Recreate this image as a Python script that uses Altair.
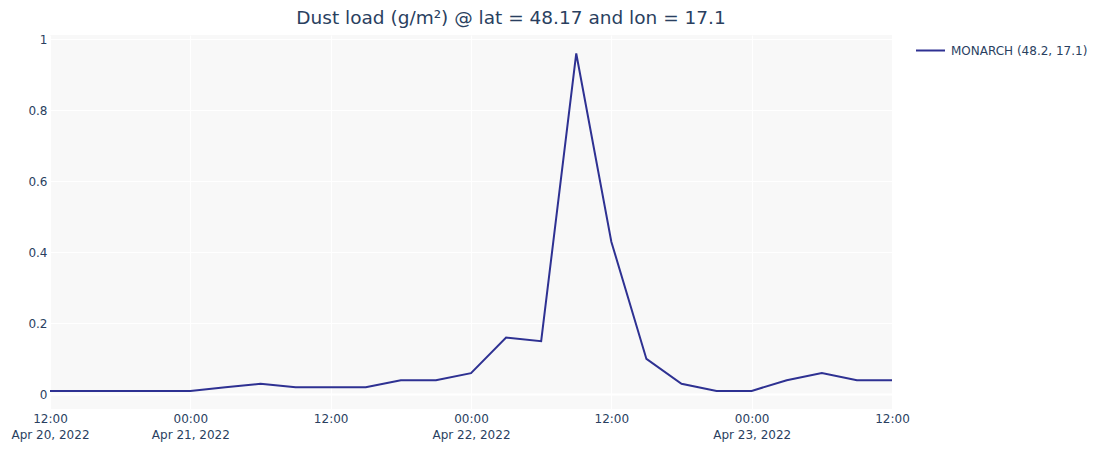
import altair as alt
import pandas as pd

times = [
    "2022-04-20T12:00:00Z", "2022-04-20T15:00:00Z", "2022-04-20T18:00:00Z", "2022-04-20T21:00:00Z",
    "2022-04-21T00:00:00Z", "2022-04-21T03:00:00Z", "2022-04-21T06:00:00Z", "2022-04-21T09:00:00Z",
    "2022-04-21T12:00:00Z", "2022-04-21T15:00:00Z", "2022-04-21T18:00:00Z", "2022-04-21T21:00:00Z",
    "2022-04-22T00:00:00Z", "2022-04-22T03:00:00Z", "2022-04-22T06:00:00Z", "2022-04-22T09:00:00Z",
    "2022-04-22T12:00:00Z", "2022-04-22T15:00:00Z", "2022-04-22T18:00:00Z", "2022-04-22T21:00:00Z",
    "2022-04-23T00:00:00Z", "2022-04-23T03:00:00Z", "2022-04-23T06:00:00Z", "2022-04-23T09:00:00Z",
    "2022-04-23T12:00:00Z",
]
dust_load = [0.01, 0.01, 0.01, 0.01, 0.01, 0.02, 0.03, 0.02, 0.02, 0.02, 0.04, 0.04, 0.06,
             0.16, 0.15, 0.96, 0.43, 0.10, 0.03, 0.01, 0.01, 0.04, 0.06, 0.04, 0.04]
series_name = "MONARCH (48.2, 17.1)"
x_ticks = [
    "2022-04-20T12:00:00Z", "2022-04-21T00:00:00Z", "2022-04-21T12:00:00Z",
    "2022-04-22T00:00:00Z", "2022-04-22T12:00:00Z", "2022-04-23T00:00:00Z",
    "2022-04-23T12:00:00Z",
]
y_ticks = [0, 0.2, 0.4, 0.6, 0.8, 1]
title_text = "Dust load (g/m²) @ lat = 48.17 and lon = 17.1"

def to_ms(s):
    return int(pd.Timestamp(s).value // 1_000_000)

df = pd.DataFrame({
    "t": [to_ms(s) for s in times],
    "v": dust_load,
    "series": [series_name] * len(times),
})
tick_ms = [to_ms(s) for s in x_ticks]

FONT = "DejaVu Sans"
TXT = "#2a3f5f"
LINE = "#2E3192"

xscale = alt.Scale(type="utc", domain=[tick_ms[0], tick_ms[-1]], nice=False)
yscale = alt.Scale(domain=[-0.041, 1.012], nice=False, zero=False)

label_expr = (
    "(utchours(datum.value) == 0 || datum.index == 0) ? "
    "[utcFormat(datum.value, '%H:%M'), utcFormat(datum.value, '%b %d, %Y')] : "
    "utcFormat(datum.value, '%H:%M')"
)

xaxis = alt.Axis(values=tick_ms, labelExpr=label_expr, title=None, ticks=False, domain=False,
                 grid=True, gridColor="white", gridWidth=1, labelPadding=4,
                 labelLineHeight=16, labelFontSize=12, labelColor=TXT, labelFont=FONT,
                 labelOverlap=False, labelFlush=False)
yaxis = alt.Axis(values=y_ticks, format="~g", title=None, ticks=False, domain=False,
                 grid=True, gridColor="white", gridWidth=1, labelPadding=3,
                 labelFontSize=12, labelColor=TXT, labelFont=FONT)

zero = alt.Chart(pd.DataFrame({"z": [0]})).mark_rule(color="white", strokeWidth=2).encode(
    y=alt.Y("z:Q", scale=yscale, axis=yaxis)
)

line = alt.Chart(df).mark_line(strokeWidth=2).encode(
    x=alt.X("t:T", scale=xscale, axis=xaxis),
    y=alt.Y("v:Q", scale=yscale, axis=yaxis),
    color=alt.Color("series:N", scale=alt.Scale(domain=[series_name], range=[LINE]),
                    legend=alt.Legend(title=None, orient="none", legendX=865, legendY=0,
                                      symbolType="stroke", symbolSize=841, symbolStrokeWidth=2,
                                      labelFontSize=12, labelColor=TXT, labelFont=FONT,
                                      labelOffset=5, labelLimit=400, padding=0)),
)

chart = alt.layer(zero, line).properties(
    width=842,
    height=374,
    title=alt.TitleParams(text=title_text, anchor="middle", frame="group", dx=40, dy=9,
                          fontSize=18.5, font=FONT, color=TXT, fontWeight="normal",
                          baseline="alphabetic", offset=0),
    autosize=alt.AutoSizeParams(type="none"),
    padding={"left": 42, "top": 27, "right": 206, "bottom": 33},
    background="white",
).configure_view(fill="#f8f8f8", stroke=None)

chart.save("out.html", embed_options={"renderer": "svg", "actions": False})
